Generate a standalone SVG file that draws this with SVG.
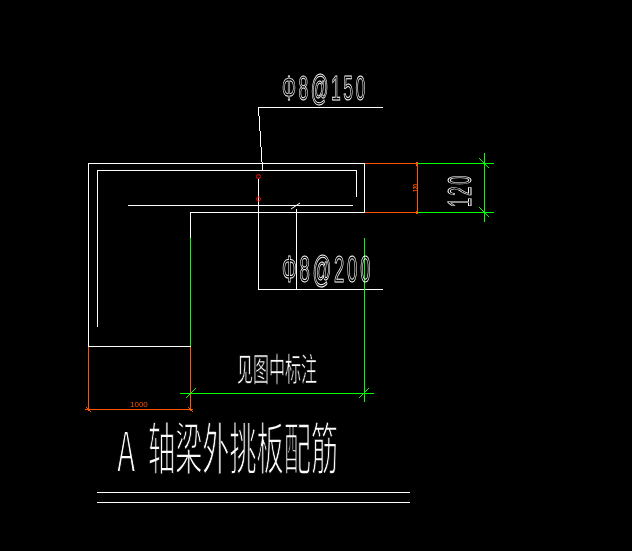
<svg xmlns="http://www.w3.org/2000/svg" width="632" height="551" viewBox="0 0 632 551">
<style>
.w{stroke:#fff;stroke-width:1;fill:none}
.g{stroke:#0f0;stroke-width:1;fill:none}
.o{stroke:#f50;stroke-width:1;fill:none}
.r{stroke:#f00;stroke-width:1;fill:none}
.a{font-family:"Liberation Sans",Arial,sans-serif;fill:none;stroke:#fff;stroke-width:1}
.c{font-family:"Noto Sans CJK SC","Liberation Sans",sans-serif;fill:#fff;stroke:#000}
.s{font-family:"Liberation Sans",Arial,sans-serif;fill:#f50}
</style>
<rect width="632" height="551" fill="#000"/>
<g id="beam" shape-rendering="crispEdges">
<path class="w" d="M190.5 237.5V212.5H364.5V163.5H88.5V346.5H190.5"/>
<path class="w" d="M97.5 326.5V170.5H356.5V197"/>
<path class="w" d="M128 205.5H353"/>
<path class="w" d="M97 492.5H410M97 502.5H410"/>
</g>
<g id="connectors">
<path class="w" d="M383 107.5H258.5L262.5 170" shape-rendering="crispEdges"/>
<path class="w" d="M258.5 179V289.5H383M296.5 209V289.5" shape-rendering="crispEdges"/>
<path class="w" d="M291 209L300 203"/>
<circle class="r" cx="258.5" cy="176.5" r="2"/>
<circle class="r" cx="258.5" cy="199" r="2"/>
<g shape-rendering="crispEdges">
<path class="o" d="M364.5 163.5H417.5V212.5H364.5"/>
<path class="o" d="M88.5 346.5V411M190.5 346.5V411M85 409.5H193"/>
<path class="g" d="M190.5 237.5V346M417.5 163.5H494M417.5 212.5H494M484.5 153V222"/>
<path class="g" d="M180 393.5H374M364.5 237.5V402"/>
</g>
<path class="g" d="M479 158L489 168M479 207L489 217M186 398L196 388M359 398L369 388"/>
<path class="o" d="M86 407L91 412M188 407L193 412" stroke-width="1.5"/>
<rect x="416" y="162" width="2" height="4" fill="#f50"/>
<rect x="416" y="211" width="2" height="3" fill="#f50"/>
</g>
<g id="labels" opacity="0.99">
<text class="a" font-size="35" letter-spacing="5" transform="translate(282 100) scale(.5 1)">Φ8@150</text>
<text class="a" font-size="37" letter-spacing="5.5" transform="translate(282 282) scale(.5 1)">Φ8@200</text>
<text class="a" font-size="33" letter-spacing="4" transform="translate(471 207) rotate(-90) scale(.5 1)">120</text>
<text class="s" font-size="8" x="130" y="407">1000</text>
<text class="s" font-size="8" font-weight="bold" transform="translate(418 192) rotate(-90) scale(.6 1)">120</text>
<text class="c" font-size="32" stroke-width=".7" transform="translate(237 381) scale(.5 1)">见图中标注</text>
<text class="c" font-size="56" stroke-width="1.8" transform="translate(117 472) scale(.54 1)">A</text>
<text class="c" font-size="56" stroke-width="1.5" transform="translate(148 469) scale(.485 1)">轴梁外挑板配筋</text>
</g>
</svg>
